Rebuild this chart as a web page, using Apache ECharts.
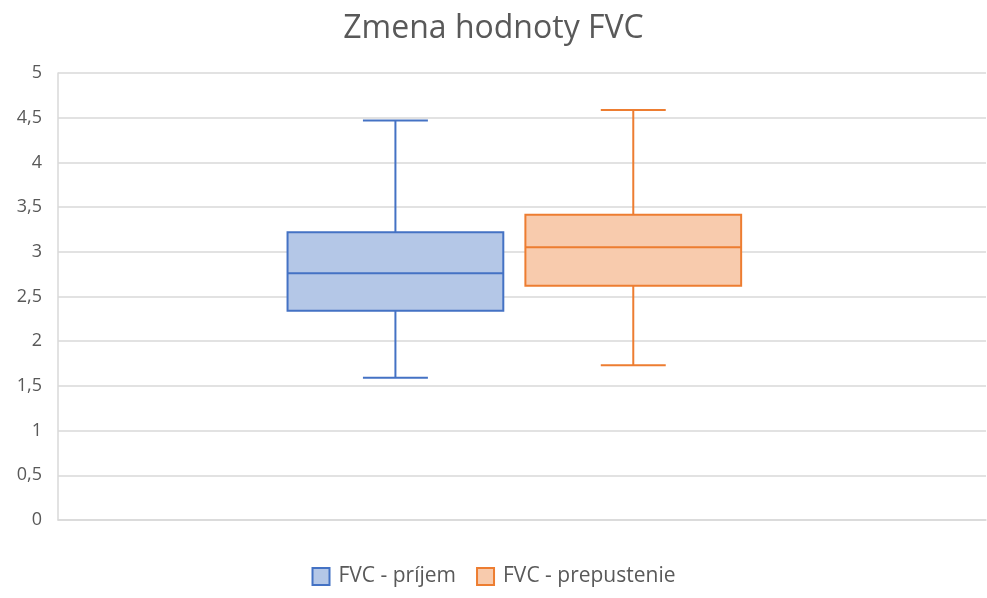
<!DOCTYPE html>
<html><head><meta charset="utf-8">
<script src="https://cdn.jsdelivr.net/npm/echarts@6/dist/echarts.min.js"></script>
<style>html,body{margin:0;padding:0;background:#fff}#c{width:987px;height:598px}</style>
</head><body><div id="c"></div>
<script>
const title = 'Zmena hodnoty FVC';
const categories = ['FVC'];
const seriesNames = ['FVC - príjem', 'FVC - prepustenie'];
// [min, Q1, median, Q3, max]
const prijem = [1.59, 2.34, 2.76, 3.22, 4.47];
const prepustenie = [1.73, 2.62, 3.05, 3.415, 4.585];
const yTicks = [0, 0.5, 1, 1.5, 2, 2.5, 3, 3.5, 4, 4.5, 5];

const fills = ['#B4C7E7', '#F8CBAD'];
const strokes = ['#4472C4', '#ED7D31'];
const shifts = [-0.1364, 0.1199];   // box centre offset as a fraction of the band
const boxFrac = 0.2325, capFrac = 0.07;

function makeRender(idx) {
  return function (params, api) {
    const c = api.value(0);
    const band = api.size([1, 0])[0];
    const cx = api.coord([c, 0])[0] + shifts[idx] * band;
    const w = boxFrac * band, cap = capFrac * band;
    const y = k => api.coord([c, api.value(k)])[1];
    const yMin = y(1), yQ1 = y(2), yMed = y(3), yQ3 = y(4), yMax = y(5);
    const ls = { stroke: strokes[idx], lineWidth: 2, fill: null };
    return {
      type: 'group',
      children: [
        { type: 'line', shape: { x1: cx, y1: yMax, x2: cx, y2: yQ3 }, style: ls },
        { type: 'line', shape: { x1: cx, y1: yQ1, x2: cx, y2: yMin }, style: ls },
        { type: 'line', shape: { x1: cx - cap / 2, y1: yMax, x2: cx + cap / 2, y2: yMax }, style: ls },
        { type: 'line', shape: { x1: cx - cap / 2, y1: yMin, x2: cx + cap / 2, y2: yMin }, style: ls },
        { type: 'rect', shape: { x: cx - w / 2, y: yQ3, width: w, height: yQ1 - yQ3 },
          style: { fill: fills[idx], stroke: strokes[idx], lineWidth: 2 } },
        { type: 'line', shape: { x1: cx - w / 2, y1: yMed, x2: cx + w / 2, y2: yMed }, style: ls }
      ]
    };
  };
}

const chart = echarts.init(document.getElementById('c'));
const font = '"Open Sans", sans-serif';
chart.setOption({
  animation: false,
  title: { text: title, left: 'center', top: 8, textStyle: { fontFamily: font, fontSize: 32, fontWeight: 'normal', color: '#595959' } },
  legend: { bottom: 6, itemWidth: 17, itemHeight: 17, itemGap: 20,
    textStyle: { fontFamily: font, fontSize: 21, color: '#595959', padding: [0, 0, 0, 4] },
    data: seriesNames.map((n, i) => ({ name: n, icon: 'rect', itemStyle: { color: fills[i], borderColor: strokes[i], borderWidth: 2 } })) },
  grid: { left: 58, right: 1, top: 73, bottom: 78 },
  xAxis: { type: 'category', data: categories, axisLabel: { show: false }, axisTick: { show: false },
    axisLine: { lineStyle: { color: '#d9d9d9', width: 1.5 } } },
  yAxis: { type: 'value', min: yTicks[0], max: yTicks[yTicks.length - 1], interval: 0.5,
    axisLine: { show: true, lineStyle: { color: '#d9d9d9', width: 1.5 } }, axisTick: { show: false },
    splitLine: { lineStyle: { color: '#d9d9d9', width: 1.5 } },
    axisLabel: { margin: 16, fontFamily: font, fontSize: 18, color: '#595959',
      formatter: v => String(v).replace('.', ',') } },
  series: [prijem, prepustenie].map((vals, i) => ({
    name: seriesNames[i], type: 'custom', renderItem: makeRender(i),
    itemStyle: { color: fills[i], borderColor: strokes[i], borderWidth: 2 },
    encode: { x: 0, y: [1, 2, 3, 4, 5] },
    data: [[0].concat(vals)]
  }))
});
</script></body></html>
